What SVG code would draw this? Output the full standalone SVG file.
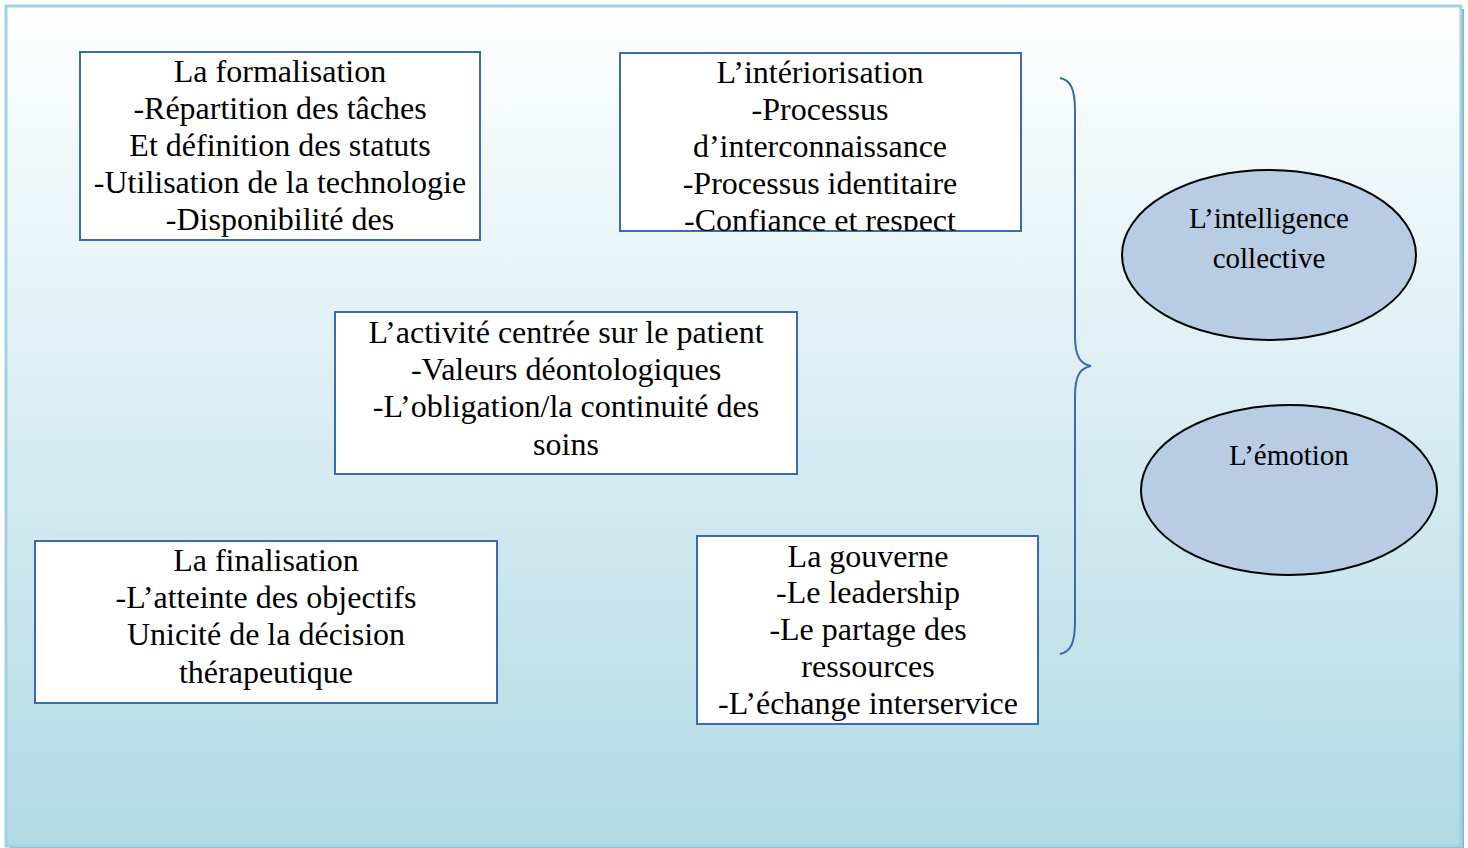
<svg xmlns="http://www.w3.org/2000/svg" width="1468" height="848" viewBox="0 0 1468 848">
<defs>
<linearGradient id="bg" x1="0" y1="0" x2="0" y2="1">
<stop offset="0" stop-color="#FFFFFF"/>
<stop offset="1" stop-color="#B2DAE5"/>
</linearGradient>
<clipPath id="clipInt"><rect x="620" y="53" width="401" height="178"/></clipPath>
</defs>
<style>
.box{fill:#FFFFFF;stroke:#3C6AAE;stroke-width:2}
.ell{fill:#B8CCE4;stroke:#000000;stroke-width:2}
.t{font-family:"Liberation Serif","Times New Roman",serif;font-size:32px;fill:#000000;text-anchor:middle}
.te{font-family:"Liberation Serif","Times New Roman",serif;font-size:29px;fill:#000000;text-anchor:middle}
.brace{fill:none;stroke:#3C6AAE;stroke-width:2}
</style>
<g id="background">
<rect x="9" y="9" width="1455" height="840" fill="#8BB5C0"/>
<rect x="6" y="6" width="1455" height="840" fill="url(#bg)" stroke="#9DD3E2" stroke-width="3"/>
</g>
<g id="connectors">
<path class="brace" d="M1060,78 C1070,80 1075,88 1075,110 L1075,336 C1075,356 1080,364 1091,366 C1080,368 1075,376 1075,396 L1075,622 C1075,644 1070,652 1060,654"/>
</g>
<g id="formalisation">
<rect class="box" x="80" y="52" width="400" height="188"/>
<text class="t" x="280" y="82">La formalisation</text>
<text class="t" x="280" y="119">-Répartition des tâches</text>
<text class="t" x="280" y="156">Et définition des statuts</text>
<text class="t" x="280" y="193">-Utilisation de la technologie</text>
<text class="t" x="280" y="230">-Disponibilité des</text>
</g>
<g id="interiorisation">
<rect class="box" x="620" y="53" width="401" height="178"/>
<g clip-path="url(#clipInt)">
<text class="t" x="820" y="83">L’intériorisation</text>
<text class="t" x="820" y="120">-Processus</text>
<text class="t" x="820" y="157">d’interconnaissance</text>
<text class="t" x="820" y="194">-Processus identitaire</text>
<text class="t" x="820" y="231">-Confiance et respect</text>
</g>
</g>
<g id="activite">
<rect class="box" x="335" y="312" width="462" height="162"/>
<text class="t" x="566" y="343">L’activité centrée sur le patient</text>
<text class="t" x="566" y="380">-Valeurs déontologiques</text>
<text class="t" x="566" y="417">-L’obligation/la continuité des</text>
<text class="t" x="566" y="455">soins</text>
</g>
<g id="finalisation">
<rect class="box" x="35" y="541" width="462" height="162"/>
<text class="t" x="266" y="571">La finalisation</text>
<text class="t" x="266" y="608">-L’atteinte des objectifs</text>
<text class="t" x="266" y="645">Unicité de la décision</text>
<text class="t" x="266" y="683">thérapeutique</text>
</g>
<g id="gouverne">
<rect class="box" x="697" y="536" width="341" height="188"/>
<text class="t" x="868" y="567">La gouverne</text>
<text class="t" x="868" y="603">-Le leadership</text>
<text class="t" x="868" y="640">-Le partage des</text>
<text class="t" x="868" y="677">ressources</text>
<text class="t" x="868" y="714">-L’échange interservice</text>
</g>
<g id="intelligence">
<ellipse class="ell" cx="1269" cy="255" rx="147" ry="85"/>
<text class="te" x="1269" y="228">L’intelligence</text>
<text class="te" x="1269" y="268">collective</text>
</g>
<g id="emotion">
<ellipse class="ell" cx="1289" cy="490" rx="148" ry="85"/>
<text class="te" x="1289" y="465">L’émotion</text>
</g>
</svg>
